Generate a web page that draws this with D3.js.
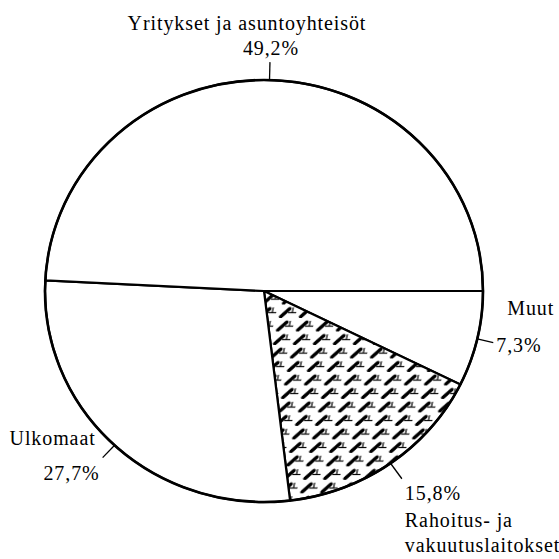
<!DOCTYPE html>
<html>
<head>
<meta charset="utf-8">
<script src="https://cdn.jsdelivr.net/npm/d3@7"></script>
<style>
  body { margin: 0; background: #fff; }
</style>
</head>
<body>
<div id="chart"></div>
<script>
// data (clockwise from 3 o'clock)
const categories = ['Muut', 'Rahoitus- ja vakuutuslaitokset', 'Ulkomaat', 'Yritykset ja asuntoyhteisöt']
const shares = [7.3, 15.8, 27.7, 49.2]
const shareLabels = ['7,3%', '15,8%', '27,7%', '49,2%']
const hatched = [false, true, false, false]

function draw() {
  const width = 559
  const height = 559
  const cx = 264
  const cy = 291
  const rx = 219
  const ry = 211

  const svg = d3.select('#chart')
    .append('svg')
    .attr('width', width)
    .attr('height', height)

  // hatch pattern for the financial sector slice
  const defs = svg.append('defs')
  const pat = defs.append('pattern')
    .attr('id', 'hatch')
    .attr('patternUnits', 'userSpaceOnUse')
    .attr('width', 20)
    .attr('height', 14)
    .attr('patternTransform', 'skewX(-12)')
  pat.append('rect').attr('width', 20).attr('height', 14).attr('fill', '#fff')
  pat.append('line')
    .attr('x1', 2.5).attr('y1', 12.5).attr('x2', 9.5).attr('y2', 4.5)
    .attr('stroke', '#000').attr('stroke-width', 3.8).attr('stroke-linecap', 'round')
  pat.append('line')
    .attr('x1', 9).attr('y1', 8.5).attr('x2', 17).attr('y2', 8.5)
    .attr('stroke', '#000').attr('stroke-width', 1.2)
  pat.append('line')
    .attr('x1', 13).attr('y1', 3).attr('x2', 13).attr('y2', 8.5)
    .attr('stroke', '#000').attr('stroke-width', 1.2)

  const pie = d3.pie()
    .sort(null)
    .startAngle(Math.PI / 2)
    .endAngle(Math.PI / 2 + 2 * Math.PI)

  const arcs = pie(shares)

  const arc = d3.arc()
    .innerRadius(0)
    .outerRadius(rx)

  // pie is slightly squashed vertically
  const chart = svg.append('g')
    .attr('transform', `translate(${cx},${cy}) scale(1,${ry / rx})`)

  chart.selectAll('path')
    .data(arcs)
    .join('path')
    .attr('d', arc)
    .attr('fill', (d, i) => hatched[i] ? 'url(#hatch)' : '#fff')
    .attr('stroke', '#000')
    .attr('stroke-width', 2.2)
    .attr('stroke-linejoin', 'round')
    .attr('vector-effect', 'non-scaling-stroke')

  // outer rim a bit heavier
  chart.append('ellipse')
    .attr('rx', rx).attr('ry', rx)
    .attr('fill', 'none')
    .attr('stroke', '#000')
    .attr('stroke-width', 2.6)
    .attr('vector-effect', 'non-scaling-stroke')

  // point on the rim for a d3 angle (0 = 12 o'clock, clockwise)
  const rim = (a, k) => [cx + Math.sin(a) * rx * k, cy - Math.cos(a) * ry * k]

  // leader lines and label placement
  const leaderLen = [1.075, 1.09, 1.08, 1.085]
  const labelLayout = [
    { anchor: 'start', lines: [[categories[0], 14, -28], [shareLabels[0], 3, 9]] },
    { anchor: 'start', lines: [[shareLabels[1], 3, 21], ['Rahoitus- ja', 3, 48], ['vakuutuslaitokset', 3, 73]] },
    { anchor: 'end', lines: [[categories[2], -7, -13], [shareLabels[2], -3, 22]] },
    { anchor: 'middle', lines: [[categories[3], -23, -32], [shareLabels[3], 1, -7]] }
  ]

  const labels = svg.append('g')

  arcs.forEach((d, i) => {
    const mid = (d.startAngle + d.endAngle) / 2
    const p0 = rim(mid, 1)
    const p1 = rim(mid, leaderLen[i])
    labels.append('line')
      .attr('x1', p0[0]).attr('y1', p0[1])
      .attr('x2', p1[0]).attr('y2', p1[1])
      .attr('stroke', '#000')
      .attr('stroke-width', 1.3)

    labelLayout[i].lines.forEach(([t, dx, dy]) => {
      labels.append('text')
        .attr('x', p1[0] + dx)
        .attr('y', p1[1] + dy)
        .attr('text-anchor', labelLayout[i].anchor)
        .attr('font-family', 'Liberation Serif')
        .attr('font-size', 20)
        .attr('letter-spacing', 0.9)
        .attr('fill', '#000')
        .text(t)
    })
  })
}

draw()
</script>
</body>
</html>
